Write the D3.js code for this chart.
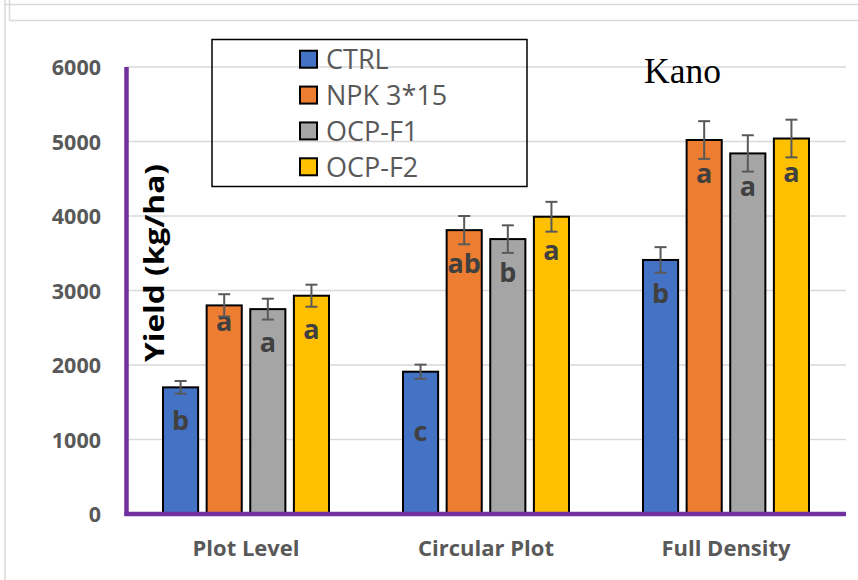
<!DOCTYPE html>
<html><head><meta charset="utf-8">
<script src="https://cdn.jsdelivr.net/npm/d3@7"></script>
<style>html,body{margin:0;padding:0;background:#fff;}svg{display:block;}</style>
</head><body>
<svg id="chart" width="858" height="580"></svg>
<script>
const groups = ["Plot Level", "Circular Plot", "Full Density"];
const seriesNames = ["CTRL", "NPK 3*15", "OCP-F1", "OCP-F2"];
const ctrlValues = [1700, 1910, 3410];
const npkValues  = [2800, 3810, 5020];
const f1Values   = [2750, 3690, 4840];
const f2Values   = [2930, 3990, 5040];
const ctrlErr = [85, 95, 172];
const npkErr  = [150, 190, 253];
const f1Err   = [140, 185, 244];
const f2Err   = [148, 200, 253];
const ctrlLetters = ["b", "c", "b"];
const npkLetters  = ["a", "ab", "a"];
const f1Letters   = ["a", "b", "a"];
const f2Letters   = ["a", "a", "a"];
const yTicks = [0, 1000, 2000, 3000, 4000, 5000, 6000];
const colors = ["#4472C4", "#ED7D31", "#A5A5A5", "#FFC000"];

const valuesBySeries = [ctrlValues, npkValues, f1Values, f2Values];
const errBySeries = [ctrlErr, npkErr, f1Err, f2Err];
const lettersBySeries = [ctrlLetters, npkLetters, f1Letters, f2Letters];

const svg = d3.select("#chart");
const L = 126, R = 846, T = 67, B = 514;

// background frame lines
const frame = svg.append("g").attr("stroke", "#d9d9d9").attr("stroke-width", 1.5).attr("fill", "none");
frame.append("line").attr("x1", 5).attr("x2", 5).attr("y1", 0).attr("y2", 580);
frame.append("line").attr("x1", 5).attr("x2", 858).attr("y1", 4.5).attr("y2", 4.5);
frame.append("line").attr("x1", 9.5).attr("x2", 9.5).attr("y1", 0).attr("y2", 20.5);
frame.append("line").attr("x1", 9.5).attr("x2", 858).attr("y1", 20.5).attr("y2", 20.5);

const y = d3.scaleLinear().domain([0, 6000]).range([B, T]);
const x0 = d3.scaleBand().domain(groups).range([L, R]).paddingInner(0.3083).paddingOuter(0.1542);
const x1 = d3.scaleBand().domain(seriesNames).range([0, x0.bandwidth()]).paddingInner(0.195).paddingOuter(0);

// gridlines
svg.append("g").selectAll("line").data(yTicks.filter(d => d > 0)).join("line")
  .attr("x1", L).attr("x2", R).attr("y1", d => y(d)).attr("y2", d => y(d))
  .attr("stroke", "#d9d9d9").attr("stroke-width", 1.5);

// y tick labels
const yAxis = d3.axisLeft(y).tickValues(yTicks).tickSize(0).tickPadding(0).tickFormat(d3.format("d"));
const ya = svg.append("g").attr("transform", `translate(101,0)`).call(yAxis);
ya.select(".domain").remove();
ya.selectAll("text").attr("font-family", "Open Sans").attr("font-weight", "bold")
  .attr("font-size", 21.5).attr("fill", "#595959").attr("dy", "0.35em");

// x labels
const xAxis = d3.axisBottom(x0).tickSize(0).tickPadding(0);
const xa = svg.append("g").attr("transform", `translate(0,${B})`).call(xAxis);
xa.select(".domain").remove();
xa.selectAll("text").attr("font-family", "Open Sans").attr("font-weight", "bold")
  .attr("font-size", 22).attr("fill", "#595959").attr("y", 34).attr("dy", "0.35em");

// data rows
const rows = [];
groups.forEach((g, gi) => {
  seriesNames.forEach((s, si) => {
    rows.push({g, gi, s, si, v: valuesBySeries[si][gi], e: errBySeries[si][gi], letter: lettersBySeries[si][gi]});
  });
});

// bars
svg.append("g").selectAll("rect").data(rows).join("rect")
  .attr("x", d => x0(d.g) + x1(d.s))
  .attr("y", d => y(d.v))
  .attr("width", x1.bandwidth())
  .attr("height", d => B - y(d.v))
  .attr("fill", d => colors[d.si])
  .attr("stroke", "#000").attr("stroke-width", 2);

// letters
const letterShift = (d) => {
  if (d.gi === 0 && d.si === 1) return 26;
  if (d.gi === 1 && d.si === 0) return 69;
  return 43;
};
svg.append("g").selectAll("text").data(rows).join("text")
  .attr("x", d => x0(d.g) + x1(d.s) + x1.bandwidth() / 2)
  .attr("y", d => y(d.v) + letterShift(d))
  .attr("text-anchor", "middle")
  .attr("font-family", "Open Sans").attr("font-weight", "bold").attr("font-size", 27)
  .attr("fill", "#404040")
  .text(d => d.letter);

// error bars
const eb = svg.append("g").attr("stroke", "#595959").attr("stroke-width", 2);
rows.forEach(d => {
  const cx = x0(d.g) + x1(d.s) + x1.bandwidth() / 2;
  eb.append("line").attr("x1", cx).attr("x2", cx).attr("y1", y(d.v + d.e)).attr("y2", y(d.v - d.e));
  eb.append("line").attr("x1", cx - 6).attr("x2", cx + 6).attr("y1", y(d.v + d.e)).attr("y2", y(d.v + d.e));
  eb.append("line").attr("x1", cx - 6).attr("x2", cx + 6).attr("y1", y(d.v - d.e)).attr("y2", y(d.v - d.e));
});

// axes lines (purple)
svg.append("line").attr("x1", 126.5).attr("x2", 126.5).attr("y1", T).attr("y2", B + 2)
  .attr("stroke", "#7030A0").attr("stroke-width", 4.5);
svg.append("line").attr("x1", 124.5).attr("x2", R).attr("y1", B).attr("y2", B)
  .attr("stroke", "#7030A0").attr("stroke-width", 4.5);

// y title
svg.append("text")
  .attr("transform", `translate(164,263) rotate(-90)`)
  .attr("text-anchor", "middle")
  .attr("font-family", "Open Sans").attr("font-weight", "bold").attr("font-size", 26)
  .attr("textLength", 198).attr("lengthAdjust", "spacingAndGlyphs")
  .attr("fill", "#000")
  .text("Yield (kg/ha)");

// Kano
svg.append("text").attr("x", 644).attr("y", 83)
  .attr("font-family", "Liberation Serif").attr("font-size", 35.5).attr("fill", "#000")
  .text("Kano");

// legend
const lg = svg.append("g");
lg.append("rect").attr("x", 212).attr("y", 39.5).attr("width", 315).attr("height", 147)
  .attr("fill", "none").attr("stroke", "#000").attr("stroke-width", 1.5);
const legendRow = d3.scaleBand().domain(seriesNames).range([39.5, 186.5]).paddingOuter(0.05);
seriesNames.forEach((s, i) => {
  const cy = legendRow(s) + legendRow.bandwidth() / 2;
  lg.append("rect").attr("x", 300).attr("y", cy - 8.5).attr("width", 17).attr("height", 17)
    .attr("fill", colors[i]).attr("stroke", "#000").attr("stroke-width", 2);
  lg.append("text").attr("x", 326).attr("y", cy).attr("dy", "0.36em")
    .attr("font-family", "Open Sans").attr("font-size", 27).attr("fill", "#595959")
    .text(s);
});
</script>
</body></html>
